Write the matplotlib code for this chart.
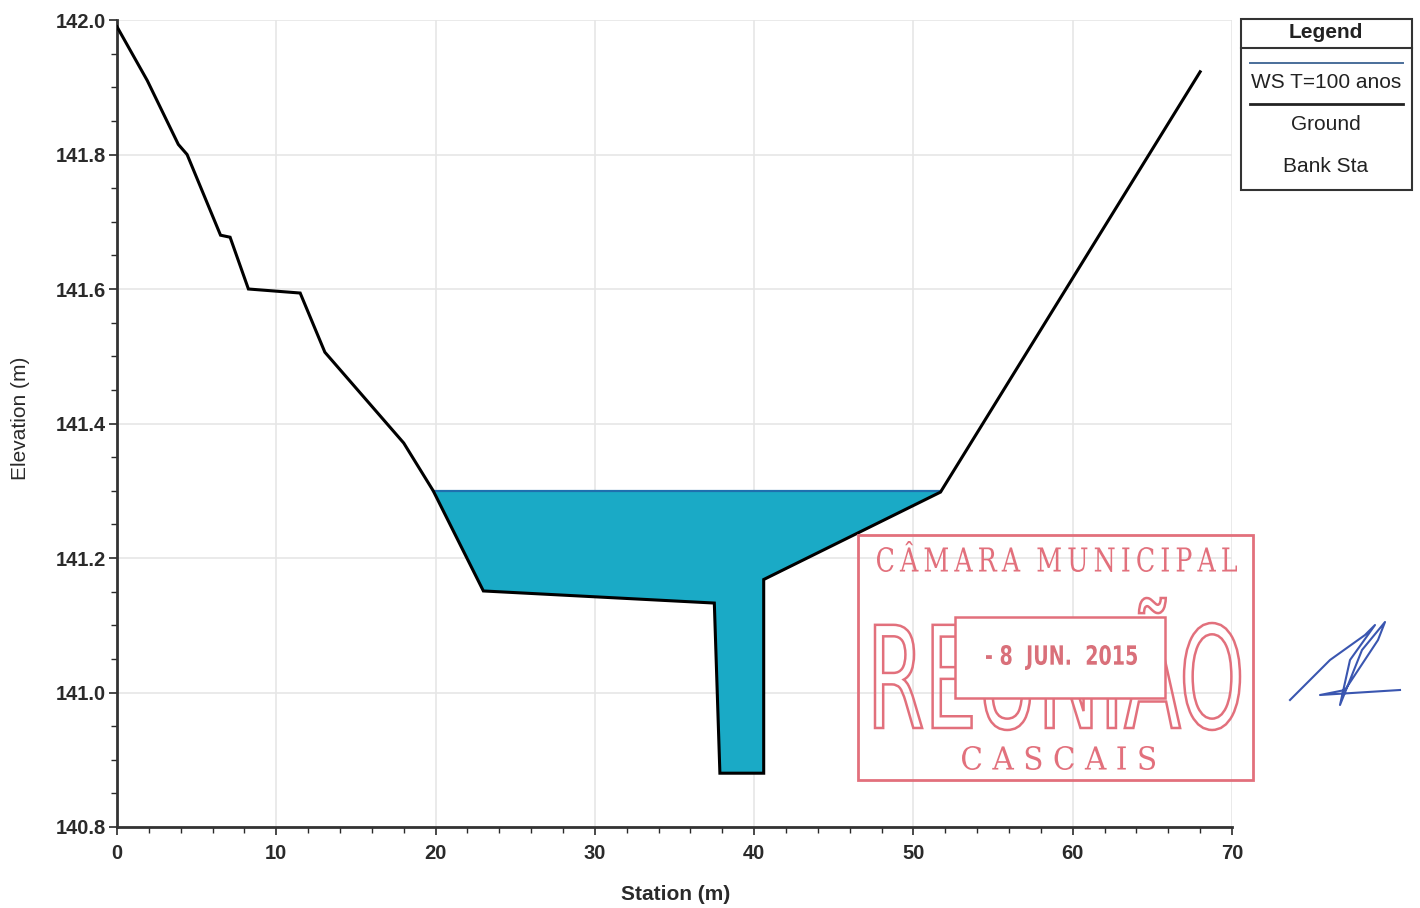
import matplotlib
matplotlib.use("Agg")
import matplotlib.pyplot as plt
from matplotlib.patches import Rectangle, PathPatch
from matplotlib.textpath import TextPath
from matplotlib.font_manager import FontProperties
from matplotlib.transforms import Affine2D
import numpy as np

# ---- data ----
station = [0, 1.9, 3.85, 4.4, 6.5, 7.1, 8.25, 11.5, 13.05, 18.0, 19.85, 23.0,
           37.5, 37.85, 40.6, 40.6, 51.7, 68.0]
elevation = [141.99, 141.91, 141.815, 141.80, 141.68, 141.677, 141.60, 141.594,
             141.506, 141.371, 141.30, 141.151, 141.133, 140.88, 140.88, 141.168,
             141.298, 141.923]
ws_elev = 141.30
ws_label = "WS T=100 anos"
legend_labels = ["Legend", ws_label, "Ground", "Bank Sta"]
x_ticks = [0, 10, 20, 30, 40, 50, 60, 70]
y_ticks = [140.8, 141.0, 141.2, 141.4, 141.6, 141.8, 142.0]

plt.rcParams['font.family'] = ['Liberation Sans', 'DejaVu Sans']

W, H = 1420, 908
fig = plt.figure(figsize=(W / 100, H / 100), dpi=100)
fig.patch.set_facecolor('white')

def fx(px):
    return px / W

def fy(py):
    return 1 - py / H

ax = fig.add_axes([fx(117), fy(827), fx(1232) - fx(117), fy(20) - fy(827)])
ax.set_xlim(0, 70)
ax.set_ylim(140.8, 142.0)

st = np.array(station)
el = np.array(elevation)
ax.fill_between(st, el, ws_elev, where=el <= ws_elev + 1e-9, interpolate=True,
                color='#1aaac6', linewidth=0, zorder=2)
wet_x = [19.85, 51.75]
ax.plot(wet_x, [ws_elev, ws_elev], color='#1f6fae', lw=1.6, zorder=3)
ax.plot(st, el, color='black', lw=2.2, zorder=4, solid_joinstyle='miter')

tick_color = '#2a2a2a'
ax.set_xticks(x_ticks)
ax.set_yticks(y_ticks)
ax.set_xticks(np.arange(0, 70.1, 2), minor=True)
ax.set_yticks(np.arange(140.8, 142.001, 0.05), minor=True)
ax.set_yticklabels([f"{v:.1f}" for v in y_ticks])
ax.tick_params(axis='both', which='major', direction='out', length=6, width=1.2,
               labelsize=14.5, colors=tick_color)
ax.tick_params(axis='both', which='minor', direction='out', length=4, width=1.0,
               colors=tick_color)
for lab in ax.get_xticklabels() + ax.get_yticklabels():
    lab.set_fontweight('bold')
ax.tick_params(axis='x', pad=6)
ax.tick_params(axis='y', pad=2)
ax.grid(True, which='major', color='#e6e6e6', lw=1.2, zorder=0)
ax.set_axisbelow(True)
for s in ['top', 'right']:
    ax.spines[s].set_visible(False)
for s in ['left', 'bottom']:
    ax.spines[s].set_linewidth(2.0)
    ax.spines[s].set_color('#333333')

fig.text(fx(21), fy(418), "Elevation (m)", rotation=90, ha='center', va='center',
         fontsize=15, color='#2a2a2a')
fig.text(fx(676), fy(894), "Station (m)", ha='center', va='center',
         fontsize=15, weight='bold', color='#2a2a2a')

# ---- legend box ----
fig.add_artist(Rectangle((fx(1241), fy(190)), fx(1412) - fx(1241), fy(19) - fy(190),
                         transform=fig.transFigure, fill=False, ec='#333333', lw=1.5))
fig.add_artist(plt.Line2D([fx(1241), fx(1412)], [fy(48), fy(48)], transform=fig.transFigure,
                          color='#333333', lw=1.5))
cx = fx(1326)
fig.text(cx, fy(33), legend_labels[0], ha='center', va='center', fontsize=15,
         weight='bold', color='#222222')
fig.add_artist(plt.Line2D([fx(1250), fx(1403)], [fy(63), fy(63)], transform=fig.transFigure,
                          color='#4a6e9a', lw=1.4))
fig.text(cx, fy(82), legend_labels[1], ha='center', va='center', fontsize=15, color='#222222')
fig.add_artist(plt.Line2D([fx(1250), fx(1403)], [fy(104), fy(104)], transform=fig.transFigure,
                          color='#222222', lw=2.0))
fig.text(cx, fy(124), legend_labels[2], ha='center', va='center', fontsize=15, color='#222222')
fig.text(cx, fy(166), legend_labels[3], ha='center', va='center', fontsize=15, color='#222222')

# ---- stamp ----
red = '#e2707c'

def fit_text(s, x0, x1, ytop, ybot, family, weight='normal', fill=True, lw=1.5,
             color=red, z=10):
    tp = TextPath((0, 0), s, prop=FontProperties(family=family, weight=weight))
    bb = tp.get_extents()
    sx = (x1 - x0) / bb.width
    sy = (ybot - ytop) / bb.height
    tr = Affine2D().translate(-bb.x0, -bb.y0).scale(sx, sy).translate(x0, H - ybot)
    p = tr.transform_path(tp)
    if fill:
        patch = PathPatch(p, transform=None, fc=color, ec='none', zorder=z)
    else:
        patch = PathPatch(p, transform=None, fc='none', ec=color, lw=lw, zorder=z)
    fig.add_artist(patch)

fig.add_artist(Rectangle((fx(858), fy(780)), fx(1253) - fx(858), fy(535) - fy(780),
                         transform=fig.transFigure, fill=False, ec=red, lw=2.0, zorder=10))
fit_text("C\u2009Â\u2009M\u2009A\u2009R\u2009A  M\u2009U\u2009N\u2009I\u2009C\u2009I\u2009P\u2009A\u2009L",
         877, 1237, 541, 572, 'DejaVu Serif')
fit_text("C A S C A I S", 962, 1155, 746, 770, 'DejaVu Serif')
fit_text("REUNIÃO", 875, 1240, 598, 730, 'DejaVu Sans', fill=False, lw=1.8)
fig.add_artist(Rectangle((fx(955), fy(698)), fx(1165) - fx(955), fy(617) - fy(698),
                         transform=fig.transFigure, fc='white', ec=red, lw=1.8, zorder=11))
fit_text("- 8  JUN.  2015", 986, 1137, 645, 670, 'DejaVu Sans', weight='bold',
         color='#d9707a', z=12)

# signature scribble
sig_x = [1290, 1330, 1365, 1375, 1350, 1340, 1362, 1385, 1378, 1345, 1320, 1400]
sig_y = [700, 660, 635, 625, 660, 705, 650, 622, 640, 690, 695, 690]
fig.add_artist(plt.Line2D([fx(v) for v in sig_x], [fy(v) for v in sig_y],
                          transform=fig.transFigure, color='#3a56b0', lw=1.5, zorder=10))

fig.savefig("out.png", dpi=100, facecolor='white')
